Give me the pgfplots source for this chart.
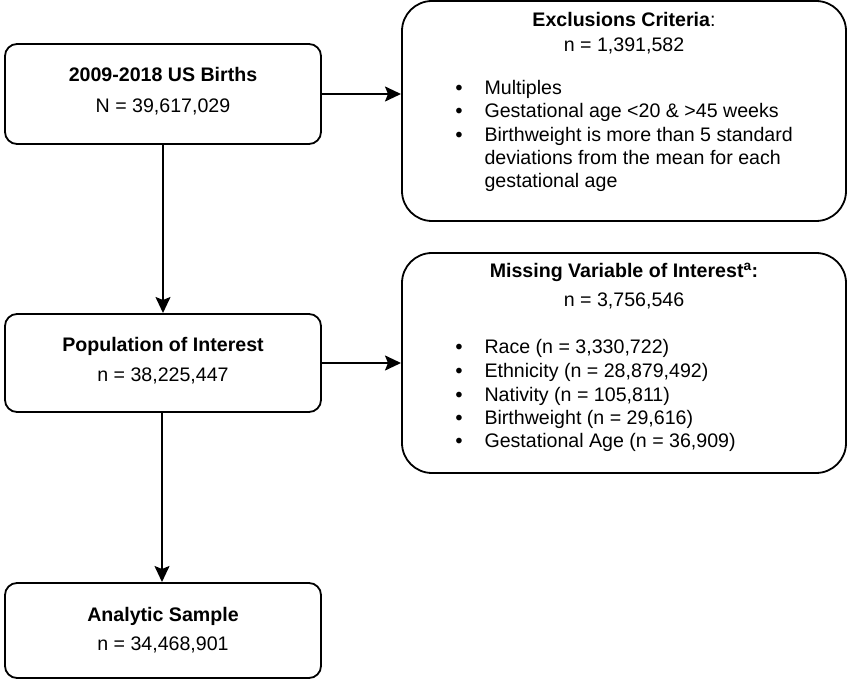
\documentclass[border=0pt]{standalone}
\usepackage{pgfplots}
\pgfplotsset{compat=1.18}
\usepackage{fontspec}
\setmainfont{Liberation Sans}
\usetikzlibrary{arrows.meta}
\newcommand{\fs}{\fontsize{19.6bp}{23bp}\selectfont}
\begin{document}
\begin{tikzpicture}
\begin{axis}[
  width=848bp, height=680bp, scale only axis,
  xmin=0, xmax=848, ymin=0, ymax=680, y dir=reverse,
  hide axis, clip=false,
  every node/.append style={inner sep=0pt},
]
% boxes
\draw[line width=1.8bp, rounded corners=12bp] (axis cs:5,44) rectangle (axis cs:321,144);
\draw[line width=1.8bp, rounded corners=12bp] (axis cs:5,314) rectangle (axis cs:321,412);
\draw[line width=1.8bp, rounded corners=12bp] (axis cs:5,583) rectangle (axis cs:321,678);
\draw[line width=1.8bp, rounded corners=30bp] (axis cs:402,1) rectangle (axis cs:846,221);
\draw[line width=1.8bp, rounded corners=30bp] (axis cs:402,253) rectangle (axis cs:846,473);
% arrows
\addplot[line width=1.8bp, -{Stealth[length=16bp,width=15bp,inset=3bp]}] coordinates {(163,144) (163,313)};
\addplot[line width=1.8bp, -{Stealth[length=16bp,width=15bp,inset=3bp]}] coordinates {(162,413) (162,582)};
\addplot[line width=1.8bp, -{Stealth[length=16bp,width=15bp,inset=3bp]}] coordinates {(321,94) (401,94)};
\addplot[line width=1.8bp, -{Stealth[length=16bp,width=15bp,inset=3bp]}] coordinates {(321,363) (401,363)};
% box A
\node[font=\fs\bfseries, anchor=base] at (axis cs:163,82) {2009-2018 US Births};
\node[font=\fs, anchor=base] at (axis cs:163,113) {N = 39,617,029};
% box C
\node[font=\fs\bfseries, anchor=base] at (axis cs:163,352) {Population of Interest};
\node[font=\fs, anchor=base] at (axis cs:163,382) {n = 38,225,447};
% box E
\node[font=\fs\bfseries, anchor=base] at (axis cs:163,622) {Analytic Sample};
\node[font=\fs, anchor=base] at (axis cs:163,651) {n = 34,468,901};
% box B
\node[font=\fs, anchor=base] at (axis cs:624,27) {\textbf{Exclusions Criteria}:};
\node[font=\fs, anchor=base] at (axis cs:624,52) {n = 1,391,582};
\node[font=\fs\bfseries, anchor=base] at (axis cs:459,95) {•};
\node[font=\fs\bfseries, anchor=base] at (axis cs:459,118) {•};
\node[font=\fs\bfseries, anchor=base] at (axis cs:459,142) {•};
\node[font=\fs, anchor=base west] at (axis cs:481,95) {Multiples};
\node[font=\fs, anchor=base west] at (axis cs:481,118) {Gestational age <20 \& >45 weeks};
\node[font=\fs, anchor=base west] at (axis cs:481,142) {Birthweight is more than 5 standard};
\node[font=\fs, anchor=base west] at (axis cs:481,165) {deviations from the mean for each};
\node[font=\fs, anchor=base west] at (axis cs:481,188) {gestational age};
% box D
\node[font=\fs\bfseries, anchor=base] at (axis cs:624,278) {Missing Variable of Interest\textsuperscript{a}:};
\node[font=\fs, anchor=base] at (axis cs:624,307) {n = 3,756,546};
\node[font=\fs\bfseries, anchor=base] at (axis cs:459,354) {•};
\node[font=\fs\bfseries, anchor=base] at (axis cs:459,378) {•};
\node[font=\fs\bfseries, anchor=base] at (axis cs:459,402) {•};
\node[font=\fs\bfseries, anchor=base] at (axis cs:459,425) {•};
\node[font=\fs\bfseries, anchor=base] at (axis cs:459,448) {•};
\node[font=\fs, anchor=base west] at (axis cs:481,354) {Race (n = 3,330,722)};
\node[font=\fs, anchor=base west] at (axis cs:481,378) {Ethnicity (n = 28,879,492)};
\node[font=\fs, anchor=base west] at (axis cs:481,402) {Nativity (n = 105,811)};
\node[font=\fs, anchor=base west] at (axis cs:481,425) {Birthweight (n = 29,616)};
\node[font=\fs, anchor=base west] at (axis cs:481,448) {Gestational Age (n = 36,909)};
\path (axis cs:0,0) (axis cs:848,680);
\end{axis}
\end{tikzpicture}
\end{document}
